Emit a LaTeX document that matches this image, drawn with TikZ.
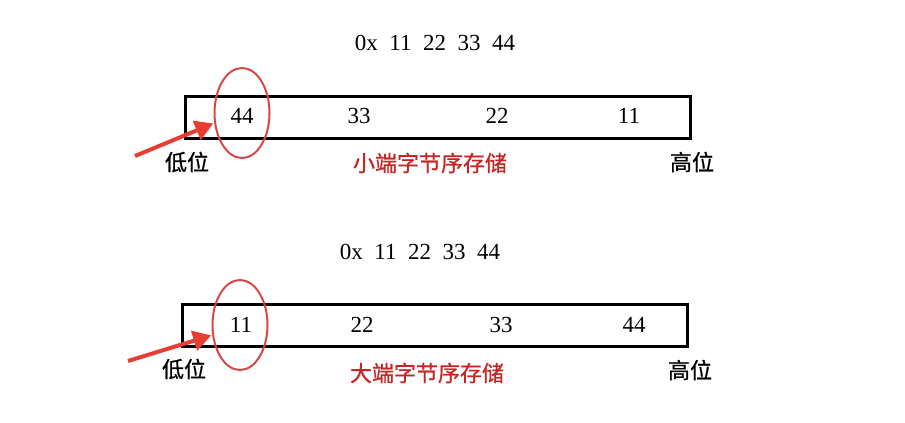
\documentclass[tikz,border=0pt]{standalone}
\usepackage{fontspec}
\setmainfont{Liberation Serif}
\newfontfamily\cjk[FakeBold=0.8]{Noto Sans CJK SC}
\usetikzlibrary{arrows.meta,shapes.geometric,positioning}

\definecolor{ringred}{RGB}{214,72,72}
\definecolor{arrowred}{RGB}{232,62,50}
\definecolor{labelred}{RGB}{200,36,36}

\begin{document}
\begin{tikzpicture}[x=1pt,y=-1pt]
\tikzstyle{num}=[font=\fontsize{23}{23}\selectfont,inner sep=0pt]
\tikzstyle{cn}=[font=\cjk\fontsize{22}{22}\selectfont,inner sep=0pt]
\tikzstyle{mem}=[draw,line width=3pt,minimum width=505pt,minimum height=42pt,inner sep=0pt]
\tikzstyle{ring}=[draw=ringred,line width=2pt,ellipse,minimum width=55pt,minimum height=90pt,inner sep=0pt]
\tikzstyle{pointer}=[draw=arrowred,line width=4pt,-{Triangle[length=18pt,width=20pt]},shorten >=1pt]

\useasboundingbox (0,0) rectangle (905,423);

% little endian
\node[num]  (hex1)  at (435,43)  {0x\hspace{0.5em}11\hspace{0.5em}22\hspace{0.5em}33\hspace{0.5em}44};
\node[mem]  (mem1)  at (437.5,117) {};
\node[num]  (a1)    at (242,116) {44};
\node[num]  (b1)    at (359,116) {33};
\node[num]  (c1)    at (497,116) {22};
\node[num]  (d1)    at (629,116) {11};
\node[ring] (ring1) at (242,113) {};
\node[cn]   (lo1)   at (187,162) {低位};
\node[cn]   (hi1)   at (692,162) {高位};
\node[cn,text=labelred] (name1) at (430,163) {小端字节序存储};
\coordinate (tail1) at (135,156);
\draw[pointer] (tail1) -- (ring1.200);

% big endian
\node[num]  (hex2)  at (420,252) {0x\hspace{0.5em}11\hspace{0.5em}22\hspace{0.5em}33\hspace{0.5em}44};
\node[mem]  (mem2)  at (435,325) {};
\node[num]  (a2)    at (241,325) {11};
\node[num]  (b2)    at (362,325) {22};
\node[num]  (c2)    at (501,325) {33};
\node[num]  (d2)    at (634,325) {44};
\node[ring] (ring2) at (240,325) {};
\node[cn]   (lo2)   at (184,369) {低位};
\node[cn]   (hi2)   at (690,370) {高位};
\node[cn,text=labelred] (name2) at (427,373) {大端字节序存储};
\coordinate (tail2) at (128,361);
\draw[pointer] (tail2) -- (ring2.200);
\end{tikzpicture}
\end{document}
